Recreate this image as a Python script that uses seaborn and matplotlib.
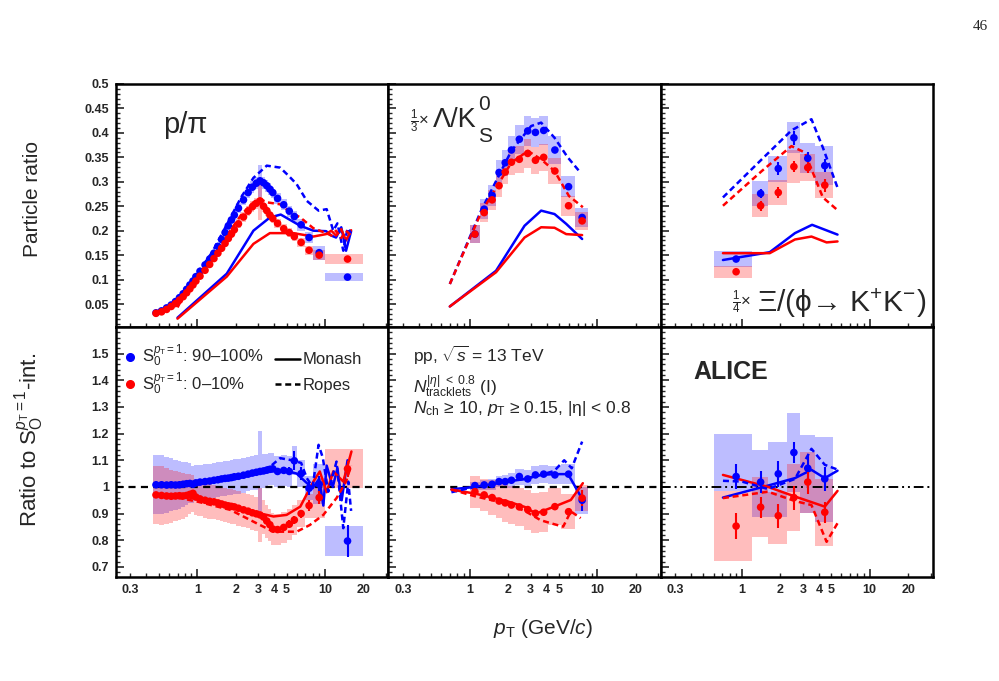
#!/usr/bin/env python3
"""
Particle ratios vs pT in S0 classes (p/pi, Lambda/K0S, Xi/phi) with model curves
and ratios to the S0-integrated class.
"""

import numpy as np
import matplotlib
matplotlib.use('Agg')
import matplotlib.pyplot as plt
import seaborn as sns
from matplotlib.lines import Line2D
from matplotlib.ticker import FixedLocator, FixedFormatter, NullFormatter

# ---------------- data ----------------
# p/pi : bin edges, S0 90-100% (blue, "high") and 0-10% (red, "low")
PP_EDGES = [0.45, 0.5, 0.55, 0.6, 0.65, 0.7, 0.75, 0.8, 0.85, 0.9, 0.95, 1.0, 1.1, 1.2, 1.3,
            1.4, 1.5, 1.6, 1.7, 1.8, 1.9, 2.0, 2.2, 2.4, 2.6, 2.8, 3.0, 3.2, 3.4, 3.6, 3.8,
            4.0, 4.5, 5.0, 5.5, 6.0, 7.0, 8.0, 10.0, 20.0]
PP_HIGH = [0.032, 0.036, 0.042, 0.048, 0.055, 0.063, 0.071, 0.080, 0.089, 0.097, 0.106, 0.117,
           0.130, 0.142, 0.154, 0.168, 0.182, 0.196, 0.210, 0.222, 0.232, 0.246, 0.263, 0.278,
           0.289, 0.297, 0.302, 0.298, 0.292, 0.285, 0.278, 0.266, 0.253, 0.240, 0.229, 0.212,
           0.186, 0.155, 0.105]
PP_LOW = [0.031, 0.034, 0.039, 0.045, 0.051, 0.058, 0.065, 0.073, 0.081, 0.089, 0.097, 0.107,
          0.119, 0.131, 0.143, 0.154, 0.164, 0.174, 0.184, 0.193, 0.202, 0.214, 0.228, 0.240,
          0.249, 0.256, 0.261, 0.250, 0.241, 0.232, 0.225, 0.215, 0.204, 0.196, 0.188, 0.176,
          0.160, 0.150, 0.142]
PP_HIGH_SYS = [0.002, 0.002, 0.002, 0.002, 0.003, 0.003, 0.003, 0.004, 0.004, 0.004, 0.005, 0.005,
               0.006, 0.006, 0.007, 0.007, 0.008, 0.008, 0.009, 0.009, 0.010, 0.010, 0.011, 0.012,
               0.012, 0.012, 0.033, 0.012, 0.012, 0.012, 0.012, 0.011, 0.011, 0.011, 0.011, 0.012,
               0.012, 0.014, 0.008]
PP_LOW_SYS = [0.002, 0.002, 0.002, 0.002, 0.002, 0.003, 0.003, 0.003, 0.004, 0.004, 0.004, 0.005,
              0.005, 0.006, 0.006, 0.007, 0.007, 0.007, 0.008, 0.008, 0.009, 0.009, 0.010, 0.010,
              0.011, 0.011, 0.039, 0.011, 0.010, 0.010, 0.010, 0.009, 0.009, 0.009, 0.009, 0.009,
              0.009, 0.010, 0.010]

PP_MONASH_HIGH_X = [0.7, 1.7, 2.75, 3.7, 4.5, 6.4, 8.1, 10.2, 11.2, 12.2, 13.4, 14.6, 16.0]
PP_MONASH_HIGH = [0.022, 0.112, 0.200, 0.227, 0.233, 0.210, 0.200, 0.199, 0.190, 0.186, 0.207, 0.159, 0.199]
PP_MONASH_LOW_X = [0.7, 1.7, 2.75, 3.7, 5.65, 8.1, 10.2, 11.2, 12.2, 13.4, 14.6, 16.0]
PP_MONASH_LOW = [0.020, 0.106, 0.173, 0.195, 0.195, 0.188, 0.193, 0.200, 0.190, 0.203, 0.180, 0.201]
PP_ROPES_HIGH_X = [0.7, 0.8, 1.0, 1.3, 1.7, 2.2, 2.75, 3.5, 4.45, 5.2, 6.0, 7.2, 8.9, 10.3, 11.6,
                   12.5, 13.9, 15.0, 16.0]
PP_ROPES_HIGH = [0.045, 0.075, 0.113, 0.155, 0.212, 0.268, 0.308, 0.333, 0.329, 0.312, 0.295, 0.261,
                 0.241, 0.244, 0.200, 0.215, 0.159, 0.205, 0.195]
PP_ROPES_LOW_X = [0.7, 0.8, 1.0, 1.3, 1.7, 2.2, 2.75, 3.1, 3.5, 4.45, 5.2, 6.4, 8.1, 10.2, 11.2,
                  12.2, 13.4, 14.6, 16.0]
PP_ROPES_LOW = [0.043, 0.072, 0.104, 0.143, 0.190, 0.232, 0.258, 0.265, 0.258, 0.254, 0.240, 0.227,
                0.205, 0.195, 0.190, 0.200, 0.185, 0.200, 0.190]

# p/pi ratio to S0-integrated
RPP_HIGH = [1.008, 1.008, 1.007, 1.008, 1.007, 1.008, 1.010, 1.012, 1.013, 1.010, 1.015, 1.018,
            1.020, 1.022, 1.025, 1.027, 1.030, 1.032, 1.033, 1.035, 1.038, 1.040, 1.044, 1.048,
            1.052, 1.055, 1.058, 1.060, 1.063, 1.066, 1.068, 1.058, 1.062, 1.058, 1.098, 1.050,
            0.995, 1.010, 0.797]
RPP_LOW = [0.970, 0.968, 0.966, 0.965, 0.966, 0.967, 0.966, 0.968, 0.972, 0.976, 0.962, 0.955,
           0.950, 0.946, 0.944, 0.940, 0.936, 0.932, 0.929, 0.927, 0.925, 0.920, 0.914, 0.909,
           0.903, 0.899, 0.895, 0.887, 0.872, 0.858, 0.842, 0.840, 0.848, 0.860, 0.876, 0.900,
           0.930, 0.960, 1.068]
RPP_HIGH_SYS = [0.11, 0.11, 0.105, 0.10, 0.095, 0.09, 0.085, 0.08, 0.075, 0.07, 0.068, 0.066,
                0.065, 0.065, 0.065, 0.065, 0.065, 0.065, 0.065, 0.065, 0.065, 0.065, 0.065, 0.065,
                0.065, 0.065, 0.15, 0.065, 0.062, 0.06, 0.06, 0.058, 0.058, 0.058, 0.055, 0.05,
                0.045, 0.075, 0.055]
RPP_LOW_SYS = [0.11, 0.11, 0.105, 0.10, 0.095, 0.09, 0.085, 0.08, 0.075, 0.07, 0.068, 0.066,
               0.065, 0.065, 0.065, 0.065, 0.065, 0.065, 0.065, 0.065, 0.065, 0.065, 0.065, 0.065,
               0.065, 0.065, 0.10, 0.065, 0.062, 0.06, 0.06, 0.058, 0.058, 0.058, 0.055, 0.05,
               0.045, 0.075, 0.073]
RPP_HIGH_STAT = [0.003, 0.003, 0.003, 0.003, 0.003, 0.003, 0.003, 0.003, 0.003, 0.003, 0.004, 0.004,
                 0.004, 0.004, 0.004, 0.004, 0.004, 0.005, 0.005, 0.005, 0.005, 0.005, 0.006, 0.006,
                 0.007, 0.007, 0.008, 0.008, 0.009, 0.009, 0.010, 0.010, 0.012, 0.015, 0.035, 0.025,
                 0.025, 0.030, 0.060]
RPP_LOW_STAT = [0.003, 0.003, 0.003, 0.003, 0.003, 0.003, 0.003, 0.003, 0.003, 0.003, 0.004, 0.004,
                0.004, 0.004, 0.004, 0.004, 0.004, 0.005, 0.005, 0.005, 0.005, 0.005, 0.006, 0.006,
                0.007, 0.007, 0.008, 0.008, 0.009, 0.009, 0.010, 0.010, 0.012, 0.015, 0.015, 0.015,
                0.020, 0.025, 0.030]

RPP_MONASH_HIGH_X = [0.7, 1.0, 2.0, 3.0, 4.0, 5.0, 6.0, 7.0, 8.0, 9.0, 9.7, 10.3, 11.5, 12.5, 13.5, 15.0]
RPP_MONASH_HIGH = [1.005, 1.01, 1.03, 1.05, 1.06, 1.06, 1.05, 1.02, 0.995, 1.03, 0.93, 1.08, 1.0, 1.07, 0.95, 1.1]
RPP_ROPES_HIGH_X = [0.7, 1.0, 2.0, 3.0, 3.8, 4.45, 5.5, 6.5, 7.2, 8.0, 8.9, 9.6, 10.6, 12.3, 13.9, 15.2, 16.0]
RPP_ROPES_HIGH = [1.0, 1.01, 1.035, 1.055, 1.08, 1.108, 1.1, 1.09, 1.033, 1.0, 1.158, 1.11, 0.982,
                  1.095, 0.845, 1.02, 0.91]
RPP_MONASH_LOW_X = [0.7, 1.0, 2.0, 3.0, 3.5, 3.95, 5.0, 6.4, 8.1, 9.1, 10.3, 11.6, 13.9, 16.1]
RPP_MONASH_LOW = [0.968, 0.955, 0.925, 0.9, 0.895, 0.889, 0.895, 0.926, 1.02, 1.058, 0.98, 1.058, 1.02, 1.133]
RPP_ROPES_LOW_X = [0.7, 1.0, 1.81, 3.1, 3.95, 6.0, 7.6, 9.7, 12.3, 14.6, 16.0]
RPP_ROPES_LOW = [0.96, 0.945, 0.914, 0.857, 0.832, 0.832, 0.857, 0.895, 0.958, 1.02, 1.08]

# Lambda/K0S (x 1/3)
LK_EDGES = [1.0, 1.2, 1.4, 1.6, 1.8, 2.0, 2.25, 2.65, 3.05, 3.5, 4.1, 5.2, 6.7, 8.5]
LK_HIGH = [0.193, 0.244, 0.272, 0.319, 0.339, 0.365, 0.387, 0.404, 0.401, 0.405, 0.365, 0.290, 0.227]
LK_LOW = [0.193, 0.237, 0.263, 0.292, 0.320, 0.340, 0.346, 0.358, 0.344, 0.350, 0.322, 0.251, 0.220]
LK_HIGH_SYS = [0.018, 0.02, 0.022, 0.025, 0.027, 0.028, 0.03, 0.03, 0.03, 0.03, 0.028, 0.022, 0.019]
LK_LOW_SYS = [0.018, 0.02, 0.021, 0.023, 0.025, 0.027, 0.028, 0.029, 0.028, 0.028, 0.027, 0.02, 0.018]

LK_MONASH_X = [0.7, 1.61, 2.69, 3.63, 4.62, 5.7, 7.6]
LK_MONASH_HIGH = [0.045, 0.118, 0.210, 0.241, 0.234, 0.214, 0.183]
LK_MONASH_LOW = [0.045, 0.115, 0.186, 0.207, 0.206, 0.193, 0.191]
LK_ROPES_HIGH_X = [0.7, 1.23, 2.12, 3.03, 3.63, 4.62, 5.86, 7.2]
LK_ROPES_HIGH = [0.091, 0.241, 0.363, 0.414, 0.421, 0.39, 0.35, 0.322]
LK_ROPES_LOW_X = [0.7, 1.23, 2.12, 2.86, 3.63, 4.62, 5.99, 7.7]
LK_ROPES_LOW = [0.091, 0.237, 0.339, 0.363, 0.346, 0.322, 0.271, 0.248]

RLK_HIGH = [1.005, 1.0075, 1.01, 1.02, 1.02, 1.025, 1.039, 1.03, 1.045, 1.048, 1.045, 1.048, 0.95]
RLK_LOW = [0.982, 0.97, 0.96, 0.947, 0.94, 0.932, 0.925, 0.915, 0.901, 0.905, 0.926, 0.907, 0.958]
RLK_HIGH_SYS = [0.015, 0.02, 0.02, 0.022, 0.025, 0.028, 0.03, 0.033, 0.035, 0.035, 0.035, 0.037, 0.05]
RLK_LOW_SYS = [0.06, 0.06, 0.065, 0.065, 0.07, 0.07, 0.07, 0.075, 0.075, 0.075, 0.07, 0.065, 0.05]
RLK_HIGH_STAT = [0.004, 0.004, 0.004, 0.005, 0.005, 0.005, 0.006, 0.006, 0.007, 0.008, 0.01, 0.012, 0.04]
RLK_LOW_STAT = [0.004, 0.004, 0.004, 0.005, 0.005, 0.005, 0.006, 0.006, 0.007, 0.008, 0.01, 0.015, 0.03]

RLK_MONASH_HIGH_X = [0.72, 1.1, 1.5, 2.0, 2.7, 3.6, 4.6, 5.9, 7.6]
RLK_MONASH_HIGH = [0.991, 1.0, 1.01, 1.02, 1.03, 1.045, 1.048, 1.048, 0.955]
RLK_ROPES_HIGH_X = [0.72, 1.1, 1.5, 2.0, 2.7, 3.6, 4.6, 5.5, 6.3, 7.6]
RLK_ROPES_HIGH = [0.98, 1.0, 1.01, 1.02, 1.03, 1.045, 1.06, 1.1, 1.07, 1.17]
RLK_MONASH_LOW_X = [0.72, 1.1, 1.5, 2.0, 2.7, 3.3, 4.6, 6.2, 7.7]
RLK_MONASH_LOW = [0.99, 0.975, 0.96, 0.945, 0.925, 0.9, 0.926, 0.951, 1.014]
RLK_ROPES_LOW_X = [0.72, 1.1, 1.5, 2.0, 2.7, 3.6, 4.6, 5.4, 6.2, 7.4]
RLK_ROPES_LOW = [0.99, 0.965, 0.95, 0.935, 0.91, 0.875, 0.86, 0.851, 0.908, 0.883]

# Xi/phi (x 1/4)
XP_EDGES = [0.6, 1.2, 1.6, 2.25, 2.85, 3.7, 5.2]
XP_HIGH = [0.142, 0.276, 0.327, 0.390, 0.348, 0.333]
XP_LOW = [0.116, 0.251, 0.278, 0.331, 0.329, 0.293]
XP_HIGH_SYS = [0.0155, 0.0255, 0.0265, 0.0315, 0.0305, 0.0395]
XP_LOW_SYS = [0.0125, 0.024, 0.0255, 0.033, 0.027, 0.027]
XP_HIGH_STAT = [0.004, 0.01, 0.013, 0.014, 0.012, 0.013]
XP_LOW_STAT = [0.004, 0.01, 0.012, 0.012, 0.012, 0.013]

XP_MONASH_HIGH_X = [0.71, 1.65, 2.6, 3.54, 5.6]
XP_MONASH_HIGH = [0.140, 0.156, 0.195, 0.212, 0.192]
XP_MONASH_LOW_X = [0.71, 1.65, 2.6, 3.5, 4.6, 5.6]
XP_MONASH_LOW = [0.154, 0.154, 0.182, 0.188, 0.176, 0.178]
XP_ROPES_HIGH_X = [0.71, 1.43, 2.44, 3.5, 4.3, 5.6]
XP_ROPES_HIGH = [0.268, 0.346, 0.405, 0.428, 0.37, 0.288]
XP_ROPES_LOW_X = [0.71, 1.43, 2.44, 3.1, 4.3, 5.6]
XP_ROPES_LOW = [0.251, 0.322, 0.373, 0.36, 0.268, 0.242]

RXP_HIGH = [1.039, 1.018, 1.049, 1.129, 1.07, 1.03]
RXP_LOW = [0.853, 0.924, 0.892, 0.96, 1.018, 0.905]
RXP_HIGH_BOX_LO = [0.986, 0.888, 0.886, 0.982, 0.903, 0.87]
RXP_HIGH_BOX_HI = [1.2, 1.137, 1.17, 1.277, 1.195, 1.187]
RXP_LOW_BOX_LO = [0.723, 0.811, 0.786, 0.836, 0.903, 0.778]
RXP_LOW_BOX_HI = [0.986, 1.039, 0.98, 1.085, 1.13, 1.03]
RXP_HIGH_STAT = [0.048, 0.04, 0.05, 0.04, 0.045, 0.045]
RXP_LOW_STAT = [0.05, 0.04, 0.045, 0.045, 0.045, 0.04]

RXP_MONASH_HIGH_X = [0.71, 1.6, 2.6, 3.5, 4.45, 5.6]
RXP_MONASH_HIGH = [0.96, 1.005, 1.033, 1.064, 1.033, 1.061]
RXP_ROPES_HIGH_X = [0.71, 1.0, 1.6, 2.6, 3.5, 4.45, 5.6]
RXP_ROPES_HIGH = [1.023, 1.02, 0.992, 1.03, 1.143, 1.083, 1.065]
RXP_MONASH_LOW_X = [0.71, 1.6, 2.6, 4.45, 5.6]
RXP_MONASH_LOW = [1.045, 1.0, 0.964, 0.926, 0.985]
RXP_ROPES_LOW_X = [0.71, 1.6, 2.6, 3.5, 4.6, 5.6]
RXP_ROPES_LOW = [0.958, 0.982, 0.947, 0.932, 0.794, 0.864]

BLUE = '#0000ff'
RED = '#ff0000'
DASH = (0, (2.4, 1.5))

# ---------------- style ----------------
sns.set_style('ticks')
plt.rcParams['font.family'] = ['Liberation Sans', 'DejaVu Sans']
plt.rcParams['mathtext.fontset'] = 'custom'
plt.rcParams['mathtext.rm'] = 'Liberation Sans'
plt.rcParams['mathtext.it'] = 'Liberation Sans:italic'
plt.rcParams['mathtext.bf'] = 'Liberation Sans:bold'
plt.rcParams['mathtext.sf'] = 'Liberation Sans'


def bin_centers(edges):
    e = np.asarray(edges, dtype=float)
    return 0.5 * (e[:-1] + e[1:])


def draw_boxes(ax, edges, lo, hi, color):
    e = np.asarray(edges, dtype=float)
    lo = np.asarray(lo, dtype=float)
    hi = np.asarray(hi, dtype=float)
    ax.bar(e[:-1], hi - lo, width=np.diff(e), bottom=lo, align='edge',
           color=color, alpha=0.26, edgecolor='none', linewidth=0, zorder=1)


def draw_sys(ax, edges, y, sys, color):
    y = np.asarray(y, dtype=float)
    s = np.asarray(sys, dtype=float)
    draw_boxes(ax, edges, y - s, y + s, color)


def draw_points(ax, edges, y, color, stat=None):
    x = bin_centers(edges)
    if stat is not None:
        ax.errorbar(x, y, yerr=stat, fmt='none', ecolor=color, elinewidth=1.5, zorder=4)
    sns.scatterplot(x=x, y=y, color=color, s=30, edgecolor='none', linewidth=0,
                    ax=ax, zorder=5, legend=False)


def draw_model(ax, x, y, color, ropes=False):
    ls = DASH if ropes else '-'
    sns.lineplot(x=x, y=y, color=color, linewidth=1.8, linestyle=ls,
                 estimator=None, sort=False, ax=ax, zorder=3)


def style_axes(ax, row, col):
    ax.set_xscale('log')
    ax.set_xlim(0.231, 31.3)
    for sp in ax.spines.values():
        sp.set_visible(True)
        sp.set_linewidth(1.8)
        sp.set_color('black')
    ax.xaxis.set_major_locator(FixedLocator([1, 10]))
    minor_x = [0.3, 0.4, 0.5, 0.6, 0.7, 0.8, 0.9, 2, 3, 4, 5, 6, 7, 8, 9, 20, 30]
    ax.xaxis.set_minor_locator(FixedLocator(minor_x))
    if row == 1:
        ax.xaxis.set_major_formatter(FixedFormatter(['1', '10']))
        ax.xaxis.set_minor_formatter(FixedFormatter(
            ['0.3', '', '', '', '', '', '', '2', '3', '4', '5', '', '', '', '', '20', '']))
    else:
        ax.xaxis.set_major_formatter(NullFormatter())
        ax.xaxis.set_minor_formatter(NullFormatter())

    if row == 0:
        ax.set_ylim(0.003, 0.5)
        ax.yaxis.set_major_locator(FixedLocator([0.05, 0.1, 0.15, 0.2, 0.25, 0.3, 0.35, 0.4, 0.45, 0.5]))
        ax.yaxis.set_minor_locator(FixedLocator(np.arange(0.01, 0.5, 0.01)))
        ylabels = ['0.05', '0.1', '0.15', '0.2', '0.25', '0.3', '0.35', '0.4', '0.45', '0.5']
    else:
        ax.set_ylim(0.662, 1.6)
        ax.yaxis.set_major_locator(FixedLocator([0.7, 0.8, 0.9, 1.0, 1.1, 1.2, 1.3, 1.4, 1.5]))
        ax.yaxis.set_minor_locator(FixedLocator(np.arange(0.68, 1.6, 0.02)))
        ylabels = ['0.7', '0.8', '0.9', '1', '1.1', '1.2', '1.3', '1.4', '1.5']
    if col == 0:
        ax.yaxis.set_major_formatter(FixedFormatter(ylabels))
    else:
        ax.yaxis.set_major_formatter(NullFormatter())
    ax.yaxis.set_minor_formatter(NullFormatter())

    ax.tick_params(which='both', direction='in', top=False, right=False,
                   left=True, bottom=True, labelsize=9, pad=5)
    ax.tick_params(which='major', length=6, width=1.2)
    ax.tick_params(which='minor', length=3, width=1.0)
    plt.setp(ax.get_xticklabels(which='both'), fontweight='bold')
    plt.setp(ax.get_yticklabels(), fontweight='bold')
    ax.set_xlabel('')
    ax.set_ylabel('')


fig = plt.figure(figsize=(9.99, 6.81))
axes = []
for r in range(2):
    row_axes = []
    for c in range(3):
        x0 = (116 + c * 272.33) / 999
        if r == 0:
            rect = [x0, 1 - 327 / 681, 272.33 / 999, 243 / 681]
        else:
            rect = [x0, 1 - 577 / 681, 272.33 / 999, 250 / 681]
        ax = fig.add_axes(rect)
        ax.set_xscale('log')
        row_axes.append(ax)
    axes.append(row_axes)

# ---- top: p/pi ----
ax = axes[0][0]
draw_sys(ax, PP_EDGES, PP_HIGH, PP_HIGH_SYS, BLUE)
draw_sys(ax, PP_EDGES, PP_LOW, PP_LOW_SYS, RED)
draw_model(ax, PP_MONASH_HIGH_X, PP_MONASH_HIGH, BLUE)
draw_model(ax, PP_MONASH_LOW_X, PP_MONASH_LOW, RED)
draw_model(ax, PP_ROPES_HIGH_X, PP_ROPES_HIGH, BLUE, ropes=True)
draw_model(ax, PP_ROPES_LOW_X, PP_ROPES_LOW, RED, ropes=True)
draw_points(ax, PP_EDGES, PP_HIGH, BLUE)
draw_points(ax, PP_EDGES, PP_LOW, RED)
ax.text(0.173, 0.80, 'p/π', transform=ax.transAxes, fontsize=21, va='baseline', ha='left')

# ---- top: Lambda/K0S ----
ax = axes[0][1]
draw_sys(ax, LK_EDGES, LK_HIGH, LK_HIGH_SYS, BLUE)
draw_sys(ax, LK_EDGES, LK_LOW, LK_LOW_SYS, RED)
draw_model(ax, LK_MONASH_X, LK_MONASH_HIGH, BLUE)
draw_model(ax, LK_MONASH_X, LK_MONASH_LOW, RED)
draw_model(ax, LK_ROPES_HIGH_X, LK_ROPES_HIGH, BLUE, ropes=True)
draw_model(ax, LK_ROPES_LOW_X, LK_ROPES_LOW, RED, ropes=True)
draw_points(ax, LK_EDGES, LK_HIGH, BLUE)
draw_points(ax, LK_EDGES, LK_LOW, RED)
ax.text(0.08, 0.845, r'$\frac{1}{3}$×', transform=ax.transAxes, fontsize=12, va='center', ha='left')
lk_main = ax.text(0.164, 0.823, 'Λ/K', transform=ax.transAxes, fontsize=19.5,
                  va='baseline', ha='left')
ax.annotate('0', xy=(1, 1), xycoords=lk_main, xytext=(1, -5), textcoords='offset points',
            fontsize=15, va='bottom', ha='left')
ax.annotate('S', xy=(1, 0), xycoords=lk_main, xytext=(1, 4), textcoords='offset points',
            fontsize=15, va='top', ha='left')

# ---- top: Xi/phi ----
ax = axes[0][2]
draw_sys(ax, XP_EDGES, XP_HIGH, XP_HIGH_SYS, BLUE)
draw_sys(ax, XP_EDGES, XP_LOW, XP_LOW_SYS, RED)
draw_model(ax, XP_MONASH_HIGH_X, XP_MONASH_HIGH, BLUE)
draw_model(ax, XP_MONASH_LOW_X, XP_MONASH_LOW, RED)
draw_model(ax, XP_ROPES_HIGH_X, XP_ROPES_HIGH, BLUE, ropes=True)
draw_model(ax, XP_ROPES_LOW_X, XP_ROPES_LOW, RED, ropes=True)
draw_points(ax, XP_EDGES, XP_HIGH, BLUE, XP_HIGH_STAT)
draw_points(ax, XP_EDGES, XP_LOW, RED, XP_LOW_STAT)
ax.text(0.262, 0.10, r'$\frac{1}{4}$×', transform=ax.transAxes, fontsize=12, va='center', ha='left')
ax.text(0.354, 0.062, r'Ξ/(ϕ→ K$^{+}$K$^{-}$)', transform=ax.transAxes, fontsize=21.5,
        va='baseline', ha='left')

# ---- bottom: p/pi ratio ----
ax = axes[1][0]
draw_sys(ax, PP_EDGES, RPP_HIGH, RPP_HIGH_SYS, BLUE)
draw_sys(ax, PP_EDGES, RPP_LOW, RPP_LOW_SYS, RED)
ax.axhline(1.0, color='black', lw=1.6, ls=(0, (3.2, 2.4)), zorder=2)
draw_model(ax, RPP_MONASH_HIGH_X, RPP_MONASH_HIGH, BLUE)
draw_model(ax, RPP_MONASH_LOW_X, RPP_MONASH_LOW, RED)
draw_model(ax, RPP_ROPES_HIGH_X, RPP_ROPES_HIGH, BLUE, ropes=True)
draw_model(ax, RPP_ROPES_LOW_X, RPP_ROPES_LOW, RED, ropes=True)
draw_points(ax, PP_EDGES, RPP_HIGH, BLUE, RPP_HIGH_STAT)
draw_points(ax, PP_EDGES, RPP_LOW, RED, RPP_LOW_STAT)

dots = [Line2D([], [], color=BLUE, marker='o', ls='none', ms=5.5),
        Line2D([], [], color=RED, marker='o', ls='none', ms=5.5)]
leg1 = ax.legend(dots, [r'S$_0^{p_{\rm T}=1}$: 90–100%', r'S$_0^{p_{\rm T}=1}$: 0–10%'],
                 loc='upper left', bbox_to_anchor=(0.027, 0.935), frameon=False, fontsize=12,
                 handlelength=0.8, handletextpad=0.3, labelspacing=0.1, borderpad=0,
                 borderaxespad=0)
ax.add_artist(leg1)
styles = [Line2D([], [], color='black', lw=1.8),
          Line2D([], [], color='black', lw=1.8, ls=DASH)]
ax.legend(styles, ['Monash', 'Ropes'], loc='upper left', bbox_to_anchor=(0.584, 0.898),
          frameon=False, fontsize=12, handlelength=1.5, handletextpad=0.15,
          labelspacing=0.65, borderpad=0, borderaxespad=0)

# ---- bottom: Lambda/K0S ratio ----
ax = axes[1][1]
draw_sys(ax, LK_EDGES, RLK_HIGH, RLK_HIGH_SYS, BLUE)
draw_sys(ax, LK_EDGES, RLK_LOW, RLK_LOW_SYS, RED)
ax.axhline(1.0, color='black', lw=1.6, ls=(0, (3.2, 2.4)), zorder=2)
draw_model(ax, RLK_MONASH_HIGH_X, RLK_MONASH_HIGH, BLUE)
draw_model(ax, RLK_MONASH_LOW_X, RLK_MONASH_LOW, RED)
draw_model(ax, RLK_ROPES_HIGH_X, RLK_ROPES_HIGH, BLUE, ropes=True)
draw_model(ax, RLK_ROPES_LOW_X, RLK_ROPES_LOW, RED, ropes=True)
draw_points(ax, LK_EDGES, RLK_HIGH, BLUE, RLK_HIGH_STAT)
draw_points(ax, LK_EDGES, RLK_LOW, RED, RLK_LOW_STAT)
ax.text(0.091, 0.861, r'pp, $\sqrt{s}$ = 13 TeV', transform=ax.transAxes, fontsize=12.5, va='baseline')
ax.text(0.091, 0.736, r'$N_{\rm tracklets}^{|\eta|\ <\ 0.8}$ (I)', transform=ax.transAxes,
        fontsize=12.5, va='baseline')
ax.text(0.091, 0.656, r'$N_{\rm ch}$ ≥ 10, $p_{\rm T}$ ≥ 0.15, |η| < 0.8', transform=ax.transAxes,
        fontsize=12.5, va='baseline')

# ---- bottom: Xi/phi ratio ----
ax = axes[1][2]
draw_boxes(ax, XP_EDGES, RXP_HIGH_BOX_LO, RXP_HIGH_BOX_HI, BLUE)
draw_boxes(ax, XP_EDGES, RXP_LOW_BOX_LO, RXP_LOW_BOX_HI, RED)
ax.axhline(1.0, color='black', lw=1.4, ls=(0, (5, 2, 1, 2, 1, 2)), zorder=2)
draw_model(ax, RXP_MONASH_HIGH_X, RXP_MONASH_HIGH, BLUE)
draw_model(ax, RXP_MONASH_LOW_X, RXP_MONASH_LOW, RED)
draw_model(ax, RXP_ROPES_HIGH_X, RXP_ROPES_HIGH, BLUE, ropes=True)
draw_model(ax, RXP_ROPES_LOW_X, RXP_ROPES_LOW, RED, ropes=True)
draw_points(ax, XP_EDGES, RXP_HIGH, BLUE, RXP_HIGH_STAT)
draw_points(ax, XP_EDGES, RXP_LOW, RED, RXP_LOW_STAT)
ax.text(0.119, 0.792, 'ALICE', transform=ax.transAxes, fontsize=18, fontweight='bold', va='baseline')

for r in range(2):
    for c in range(3):
        style_axes(axes[r][c], r, c)

# labels
fig.text(33 / 999, 1 - 199 / 681, 'Particle ratio', rotation=90, fontsize=15, ha='center', va='center')
fig.text(30 / 999, 1 - 440 / 681, r'Ratio to S$_{\rm O}^{p_{\rm T}=1}$-int.', rotation=90,
         fontsize=16, ha='center', va='center')
fig.text(543 / 999, 1 - 628 / 681, r'$p_{\rm T}$ (GeV/$c$)', fontsize=15, ha='center', va='center')
fig.text(980 / 999, 1 - 26 / 681, '46', fontsize=11, family='Liberation Serif', ha='center', va='center')

plt.savefig('out.png', dpi=100)
plt.close()
